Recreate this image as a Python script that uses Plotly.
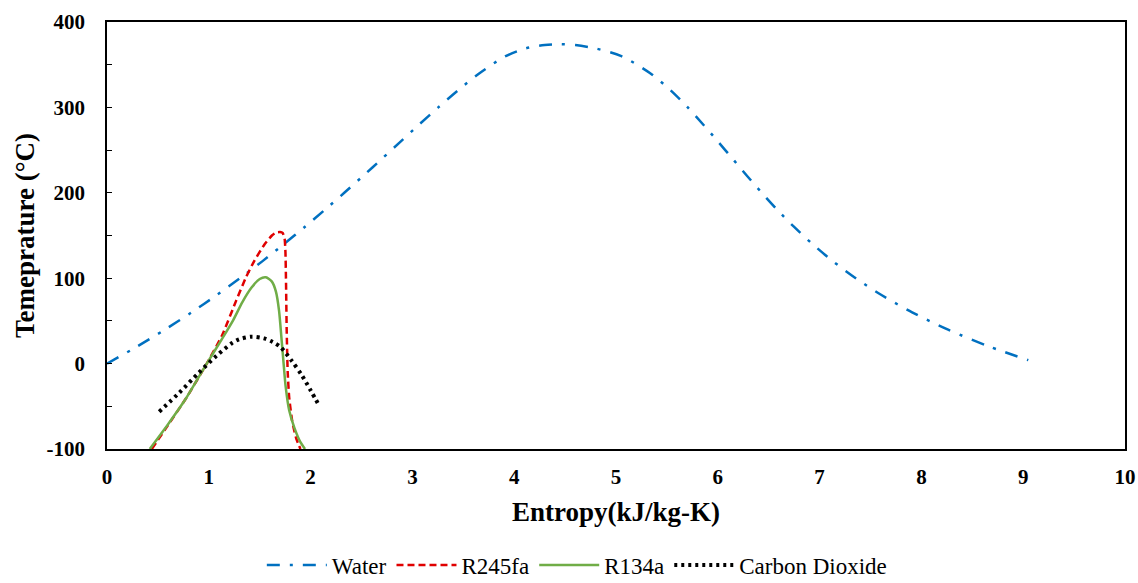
import plotly.graph_objects as go

# Water saturation dome (entropy kJ/kg-K, temperature °C)
water_s = [0.0, 0.2966, 0.5724, 0.8312, 1.075, 1.307, 1.528, 1.739, 1.942, 2.139, 2.331,
           2.518, 2.702, 2.884, 3.067, 3.254, 3.448, 3.659, 3.916, 4.111, 4.30, 4.45, 4.60,
           4.80, 5.053, 5.336, 5.537, 5.705, 5.856, 6.002, 6.144, 6.286, 6.432, 6.585,
           6.750, 6.930, 7.129, 7.355, 7.612, 7.909, 8.257, 8.666, 9.05]
water_T = [0, 20, 40, 60, 80, 100, 120, 140, 160, 180, 200,
           220, 240, 260, 280, 300, 320, 340, 360, 369, 373, 374, 373,
           369, 360, 340, 320, 300, 280, 260, 240, 220, 200, 180,
           160, 140, 120, 100, 80, 60, 40, 20, 4]

r245_s = [0.44, 0.60, 0.78, 0.98, 1.13, 1.27, 1.365, 1.45, 1.55, 1.62, 1.66, 1.70, 1.725,
          1.745, 1.753, 1.758, 1.765, 1.775, 1.79, 1.82, 1.86, 1.90]
r245_T = [-100, -72, -40, 0, 33, 74, 101, 121, 140, 150, 153.5, 154, 153,
          146, 130, 100, 40, -10, -40, -68, -88, -100]

r134_s = [0.42, 0.60, 0.78, 0.98, 1.12, 1.24, 1.33, 1.42, 1.50, 1.56, 1.62, 1.66,
          1.69, 1.715, 1.735, 1.755, 1.79, 1.84, 1.90, 1.945]
r134_T = [-100, -71, -40, 0, 27, 51, 72, 89, 99, 101, 96, 84,
          62, 28, 0, -27, -55, -75, -92, -100]

co2_s = [0.513, 0.71, 0.897, 1.077, 1.225, 1.297, 1.42, 1.542, 1.627, 1.70, 1.814, 1.912, 2.004, 2.09]
co2_T = [-56.3, -34.1, -11.3, 9.3, 23.8, 28.4, 31.5, 29.6, 25.3, 19.8, 3.4, -13.3, -32.1, -50.5]

y_ticks = [-100, 0, 100, 200, 300, 400]
x_ticks = list(range(0, 11))

FONT = "Liberation Serif, Times New Roman, serif"

fig = go.Figure()
fig.add_trace(go.Scatter(x=water_s, y=water_T, mode="lines", name="Water",
                         line=dict(color="#0070C0", width=2.5, dash="13px,10px,3px,10px",
                                   shape="spline", smoothing=0.8)))
fig.add_trace(go.Scatter(x=r245_s, y=r245_T, mode="lines", name="R245fa",
                         line=dict(color="#E00000", width=2.5, dash="7px,4px",
                                   shape="spline", smoothing=0.5)))
fig.add_trace(go.Scatter(x=r134_s, y=r134_T, mode="lines", name="R134a",
                         line=dict(color="#70AD47", width=2.5,
                                   shape="spline", smoothing=0.7)))
fig.add_trace(go.Scatter(x=co2_s, y=co2_T, mode="lines", name="Carbon Dioxide",
                         line=dict(color="#000000", width=4, dash="3px,4px",
                                   shape="spline", smoothing=0.8)))

fig.update_layout(
    width=1138, height=583,
    margin=dict(l=107, r=13, t=22, b=134, autoexpand=False),
    paper_bgcolor="white", plot_bgcolor="white",
    font=dict(family=FONT, color="black"),
    showlegend=True,
    legend=dict(orientation="h", x=0.462, xanchor="center", y=-0.272, yanchor="middle",
                font=dict(family=FONT, size=23, color="black"),
                itemwidth=60, tracegroupgap=0),
)
fig.update_xaxes(
    range=[0, 10], tickvals=x_ticks, ticktext=[str(v) for v in x_ticks],
    showgrid=False, zeroline=False, automargin=False,
    showline=True, linecolor="black", linewidth=1.5, mirror=True,
    ticks="", tickfont=dict(family=FONT, size=21, color="black", weight="bold"),
    ticklabelstandoff=8,
    title=dict(text="<b>Entropy(kJ/kg-K)</b>", font=dict(family=FONT, size=27, color="black"),
               standoff=14),
)
fig.update_yaxes(
    range=[-100, 400], tickvals=y_ticks, ticktext=[str(v) for v in y_ticks],
    showgrid=False, zeroline=False, automargin=False,
    showline=True, linecolor="black", linewidth=1.5, mirror=True,
    ticks="inside", ticklen=5, tickcolor="black", tickwidth=1,
    minor=dict(dtick=50, tick0=0, ticks="inside", ticklen=5, tickcolor="black", tickwidth=1),
    tickfont=dict(family=FONT, size=21, color="black", weight="bold"),
    ticklabelstandoff=16,
    title=dict(text="<b>Temeprature (°C)</b>", font=dict(family=FONT, size=27, color="black"),
               standoff=4),
)

fig.write_html("out.html", config={"displayModeBar": False},
               post_script="document.body.style.margin='0px';")
